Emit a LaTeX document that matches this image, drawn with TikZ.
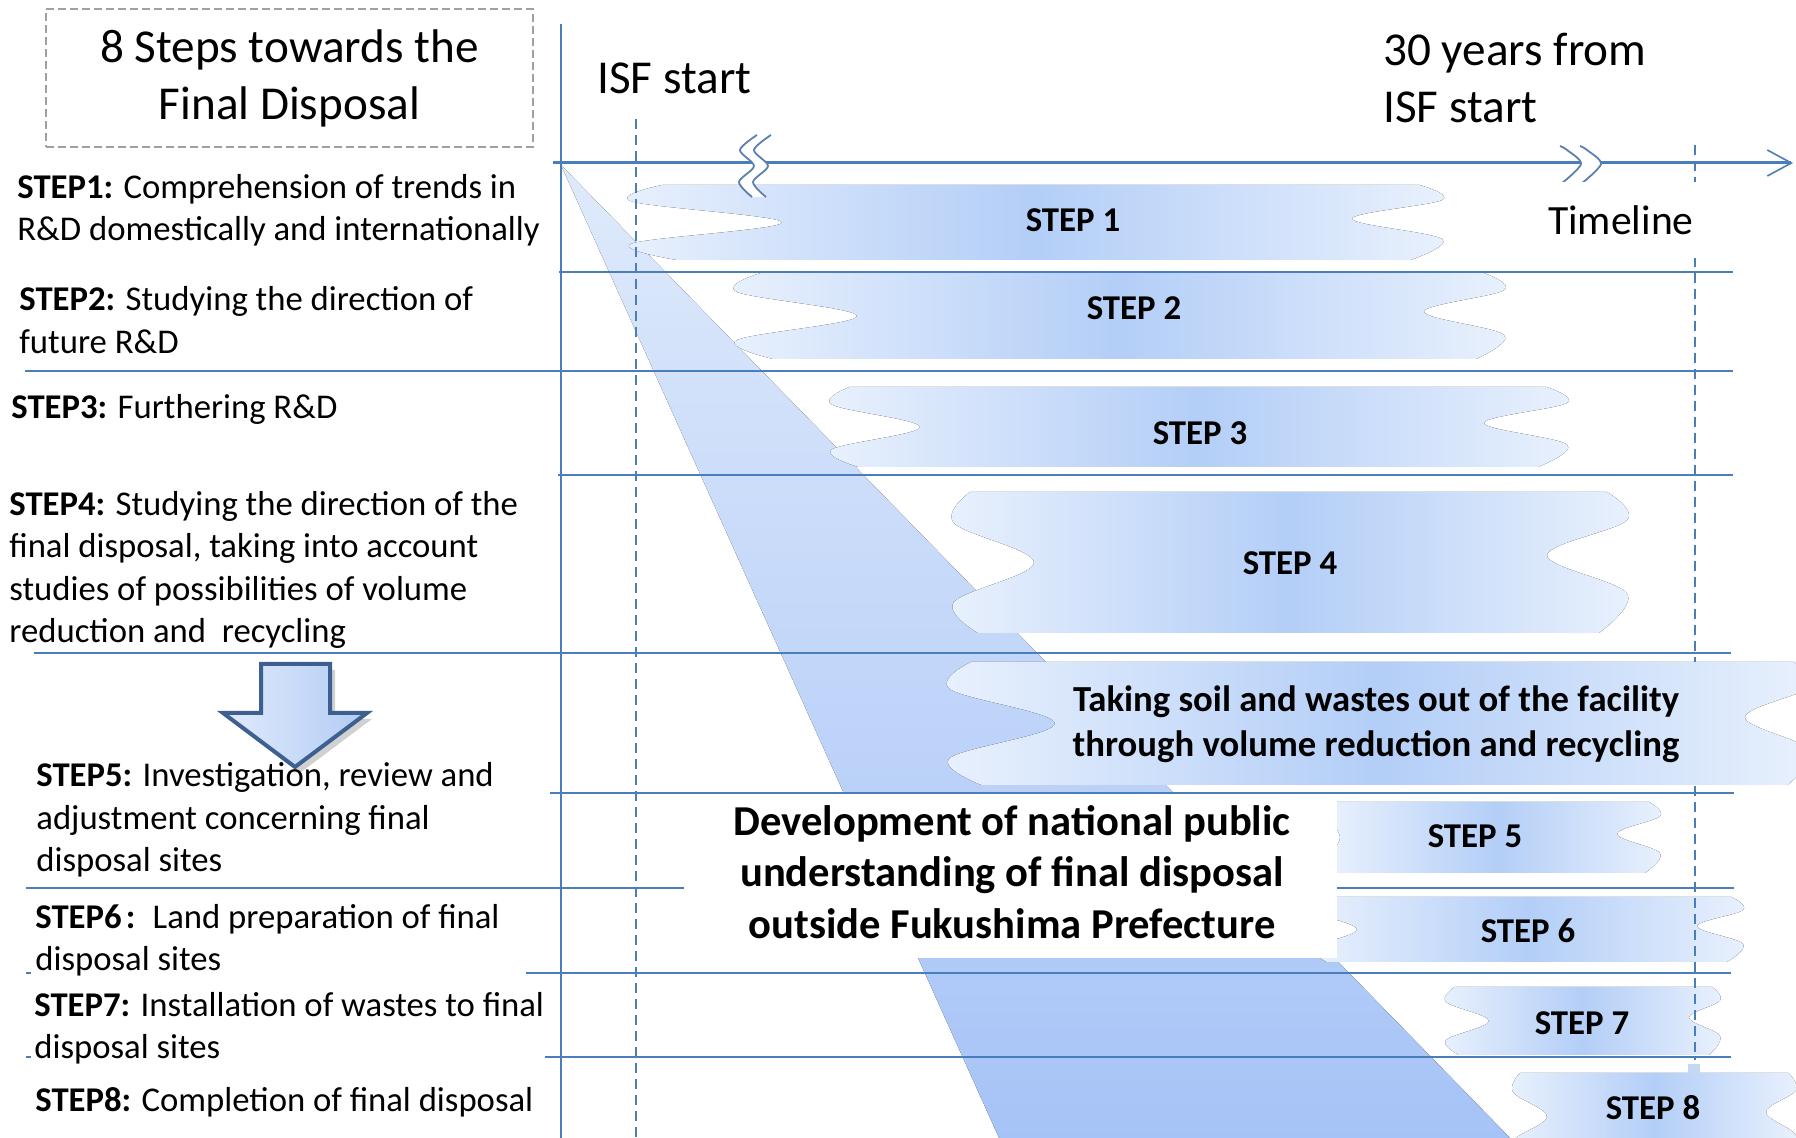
\documentclass[tikz,border=0pt]{standalone}
\usepackage{fontspec}
\setmainfont{Carlito}
\usetikzlibrary{arrows.meta}
\definecolor{lineblue}{HTML}{4A7EBB}
\definecolor{bandmid}{HTML}{B3CEF7}
\definecolor{bandend}{HTML}{E9F1FD}
\definecolor{wedgetop}{HTML}{DFEAFB}
\definecolor{wedgebot}{HTML}{A6C3F7}
\definecolor{arrowedge}{HTML}{3E6090}
\definecolor{arrowlight}{HTML}{E0EBFC}
\definecolor{arrowdark}{HTML}{B2CBF4}
\definecolor{breakblue}{HTML}{5B7FB0}
\definecolor{boxgray}{HTML}{A0A0A0}

\newcommand\wband[6]{%
  \pgfmathsetmacro\wbH{#4-#3}%
  \fill[left color=bandend,right color=bandend,middle color=bandmid]
   ({#1+0.2*#5},#3) -- plot[smooth,tension=0.6] coordinates {({#2-0.25*#6},#3) (#2,{#3+0.2*\wbH}) ({#2-#6},{#3+0.45*\wbH}) (#2,{#3+0.72*\wbH}) ({#2-0.35*#6},#4)}
   -- plot[smooth,tension=0.6] coordinates {({#1+0.3*#5},#4) (#1,{#4-0.22*\wbH}) ({#1+#5},{#4-0.5*\wbH}) (#1,{#4-0.78*\wbH}) ({#1+0.2*#5},#3)} -- cycle;}

\begin{document}
\begin{tikzpicture}[x=0.5pt,y=-0.5pt,
  lefttxt/.style={anchor=west,align=left,inner sep=0pt,font=\fontsize{17.35pt}{21.15pt}\selectfont},
  steplbl/.style={inner sep=0pt,font=\bfseries\fontsize{17.4pt}{21pt}\selectfont},
  bigtxt/.style={inner sep=0pt,font=\fontsize{23.6pt}{28.3pt}\selectfont},
  gridthick/.style={lineblue,line width=1.4pt},
  gridthin/.style={lineblue,line width=0.8pt},
  dashv/.style={lineblue,line width=1pt,dash pattern=on 5pt off 3pt},
  breakline/.style={breakblue,line width=0.9pt}]
\useasboundingbox (0,0) rectangle (1796,1138);
\clip (0,0) rectangle (1796,1138);

% wedge
\fill[top color=wedgetop,bottom color=wedgebot] (561,165) -- (1512,1140) -- (1000,1140) -- cycle;

% bands
\wband{632}{1442}{185}{260}{150}{90}
\wband{737}{1504}{273}{359}{120}{80}
\wband{832}{1567}{387}{467}{88}{83}
\wband{954}{1627}{492}{633}{80}{80}
\wband{950}{1810}{662}{785}{105}{65}
\wband{1330}{1660}{802}{873}{10}{43}
\wband{1314}{1743}{897}{962}{43}{46}
\wband{1446}{1720}{987}{1055}{43}{31}
\wband{1513}{1796}{1073}{1160}{34}{30}

% white box behind the development text
\fill[white] (684,793) rectangle (1337,958);

% vertical axis
\draw[lineblue,line width=1.1pt] (561,24) -- (561,1138);

% grid lines
\draw[gridthick] (559,272) -- (1733,272);
\draw[gridthin] (25,371) -- (559,371);
\draw[gridthick] (559,371) -- (1733,371);
\draw[gridthick] (558,475) -- (1733,475);
\draw[gridthin] (34,653) -- (561,653);
\draw[gridthick] (561,653) -- (1731,653);
\draw[gridthick] (550,793) -- (1734,793);
\draw[lineblue,line width=1pt] (26,888) -- (684,888);
\draw[gridthick] (1337,888) -- (1734,888);
\draw[gridthick] (526,973) -- (1731,973);
\draw[gridthick] (545,1057) -- (1731,1057);
\draw[gridthick] (26,973) -- (31,973);
\draw[gridthick] (26,1057) -- (31,1057);

% dashed verticals
\draw[dashv] (636,119) -- (636,1138);
\draw[dashv] (1695,145) -- (1695,662);
\draw[dashv] (1695,786) -- (1695,1060);
\fill[bandmid!80!lineblue!60] (1688,1064) rectangle (1700,1075);

% timeline
\coordinate (tl0) at (553,163);
\coordinate (tl1) at (1793,163);
\draw[lineblue,line width=1.5pt,-{Straight Barb[length=12pt,width=13pt,line width=0.8pt]}] (tl0) -- (tl1);

% break marks
\fill[white] plot[smooth] coordinates {(757,135) (740,150) (754,166) (739,182) (752,197)}
  -- plot[smooth] coordinates {(766,197) (753,182) (768,166) (754,150) (771,135)} -- cycle;
\draw[breakline] plot[smooth] coordinates {(757,135) (740,150) (754,166) (739,182) (752,197)};
\draw[breakline] plot[smooth] coordinates {(771,135) (754,150) (768,166) (753,182) (766,197)};
\fill[white] plot[smooth,tension=0.5] coordinates {(1560,146) (1567,150) (1581,164) (1561,184)}
  -- plot[smooth,tension=0.5] coordinates {(1581,184) (1601,164) (1587,150) (1580,146)} -- cycle;
\draw[breakline] plot[smooth,tension=0.5] coordinates {(1560,146) (1567,150) (1581,164) (1561,184)};
\draw[breakline] plot[smooth,tension=0.5] coordinates {(1580,146) (1587,150) (1601,164) (1581,184)};

% down arrow
\fill[black,opacity=0.18] (266,670) -- (335,670) -- (335,719) -- (372,719) -- (300,773) -- (228,719) -- (266,719) -- cycle;
\draw[arrowedge,line width=2pt,line join=miter,left color=arrowlight,right color=arrowdark]
  (261,664) -- (330,664) -- (330,713) -- (367,713) -- (295,767) -- (223,713) -- (261,713) -- cycle;

% title
\node[draw=boxgray,line width=1pt,dash pattern=on 4pt off 2pt,minimum width=243.5pt,minimum height=69pt,
  align=center,inner sep=0pt,font=\fontsize{23.6pt}{28.5pt}\selectfont] (title) at (289.5,78)
  {8 Steps towards the\\Final Disposal};

\node[bigtxt,anchor=west] (isf) at (597,78) {ISF start};
\node[bigtxt,anchor=west,align=left] (thirty) at (1383,78) {30 years from\\ISF start};
\node[fill=white,anchor=east,inner xsep=2pt,minimum height=38pt,font=\fontsize{20.8pt}{25pt}\selectfont] (timeline) at (1698,220) {Timeline};

% left texts
\node[lefttxt] (t1) at (17,210) {\textbf{STEP1:} Comprehension of trends in\\R\&D domestically and internationally};
\node[lefttxt] (t2) at (19,320) {\textbf{STEP2:} Studying the direction of\\future R\&D};
\node[lefttxt] (t3) at (11,409) {\textbf{STEP3:} Furthering R\&D};
\node[lefttxt] (t4) at (9,570) {\textbf{STEP4:} Studying the direction of the\\final disposal, taking into account\\studies of possibilities of volume\\reduction and\ \ recycling};
\node[lefttxt] (t5) at (36,820) {\textbf{STEP5:} Investigation, review and\\adjustment concerning final\\disposal sites};
\node[lefttxt] (t6) at (35,940) {\textbf{STEP6}\hspace{0.12em}\textbf{:}\hspace{0.5em}Land preparation of final\\disposal sites};
\node[lefttxt] (t7) at (34,1028) {\textbf{STEP7:} Installation of wastes to final\\disposal sites};
\node[lefttxt] (t8) at (35,1102) {\textbf{STEP8:} Completion of final disposal};

% band labels
\node[steplbl] (s1) at (1073,220) {STEP 1};
\node[steplbl] (s2) at (1134,308) {STEP 2};
\node[steplbl] (s3) at (1200,433) {STEP 3};
\node[steplbl] (s4) at (1290,563) {STEP 4};
\node[steplbl] (s5) at (1475,836) {STEP 5};
\node[steplbl] (s6) at (1528,931) {STEP 6};
\node[steplbl] (s7) at (1582,1023) {STEP 7};
\node[steplbl] (s8) at (1653,1108) {STEP 8};

\node[align=center,inner sep=0pt,font=\bfseries\fontsize{18.35pt}{22.4pt}\selectfont] (soil) at (1376,724)
  {Taking soil and wastes out of the facility\\through volume reduction and recycling};
\node[align=center,inner sep=0pt,font=\bfseries\fontsize{21.3pt}{25.75pt}\selectfont] (dev) at (1012,872)
  {Development of national public\\understanding of final disposal\\outside Fukushima Prefecture};
\end{tikzpicture}
\end{document}
